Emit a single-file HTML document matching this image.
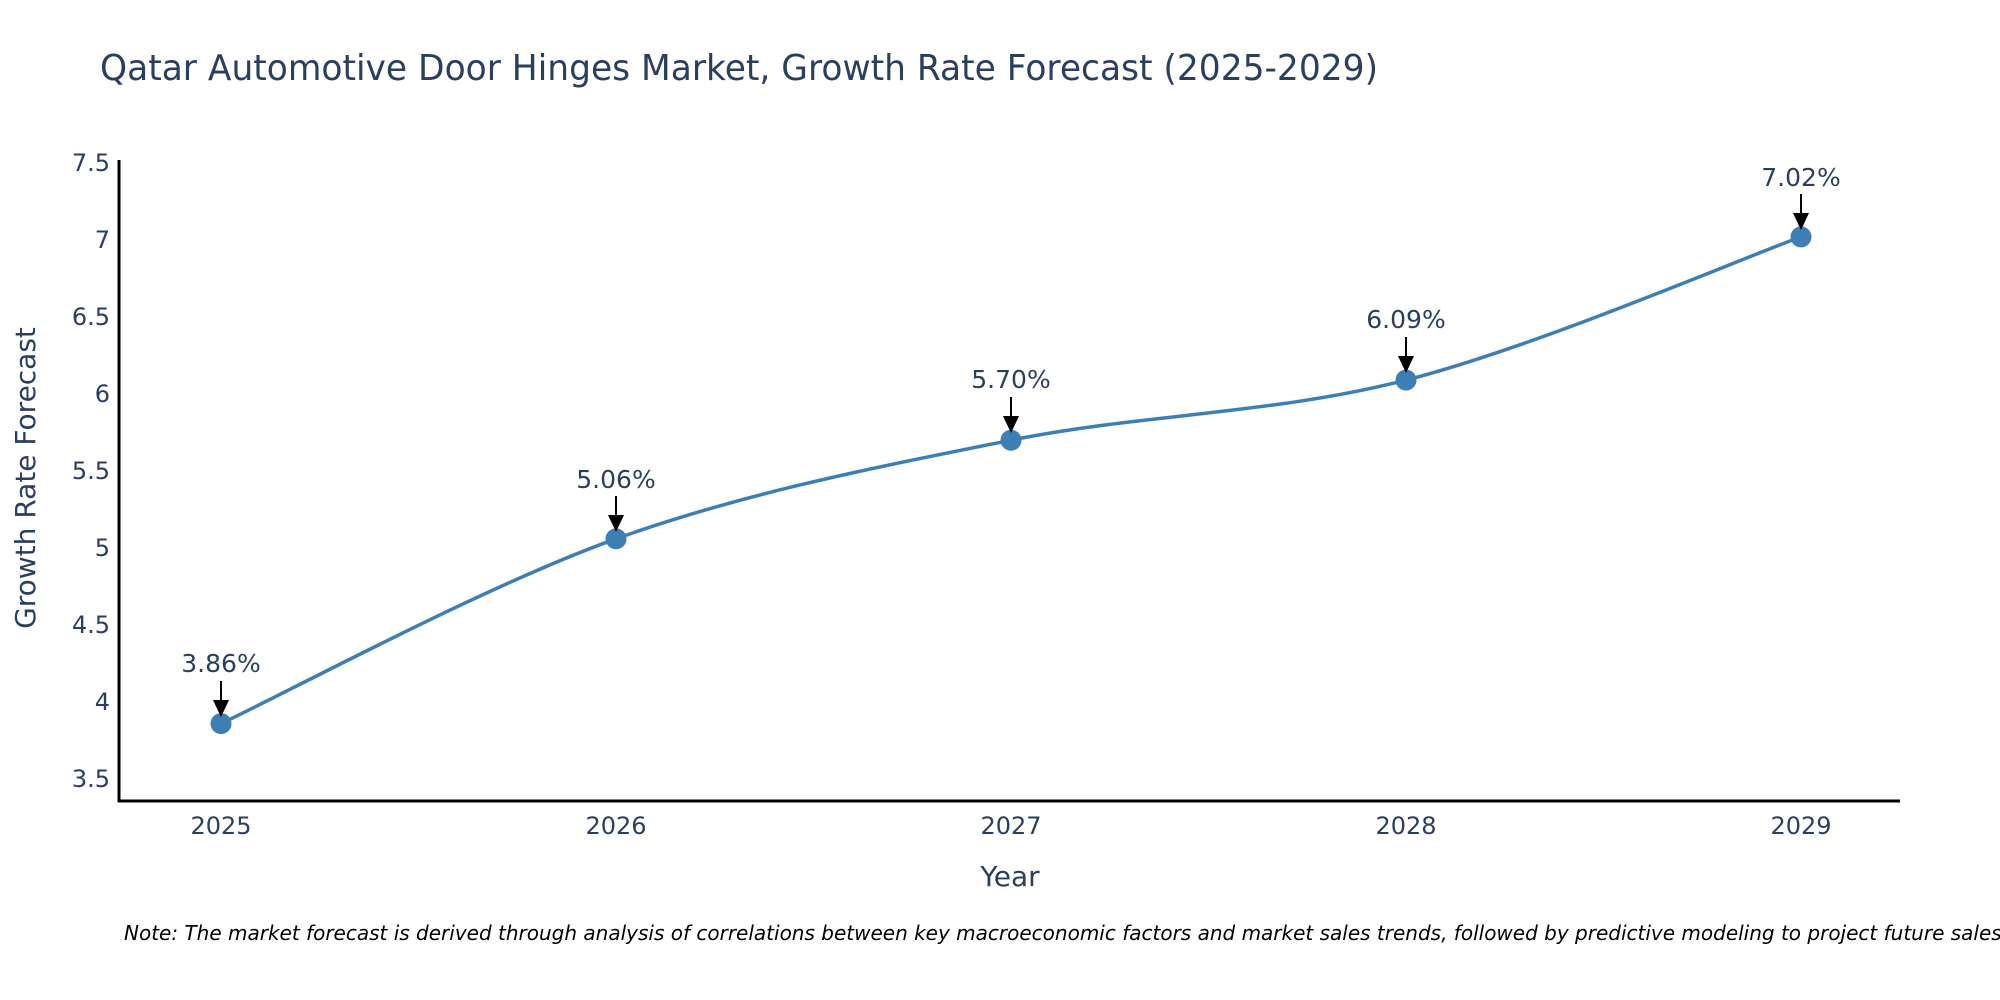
<!DOCTYPE html>
<html><head><meta charset="utf-8"><style>html,body{margin:0;padding:0;background:#fff}svg{display:block}</style></head>
<body>
<svg width="2000" height="1000" xmlns="http://www.w3.org/2000/svg" font-family="'DejaVu Sans','Liberation Sans',sans-serif">
<rect width="2000" height="1000" fill="#fff"/>
<text x="100" y="80" font-size="36" fill="#2a3f5f" textLength="1278" lengthAdjust="spacingAndGlyphs">Qatar Automotive Door Hinges Market, Growth Rate Forecast (2025-2029)</text>
<g font-size="24" fill="#2a3f5f" text-anchor="end">
<text x="110" y="171">7.5</text>
<text x="110" y="248">7</text>
<text x="110" y="325">6.5</text>
<text x="110" y="402">6</text>
<text x="110" y="479">5.5</text>
<text x="110" y="556">5</text>
<text x="110" y="633">4.5</text>
<text x="110" y="710">4</text>
<text x="110" y="787">3.5</text>
</g>
<g font-size="24" fill="#2a3f5f" text-anchor="middle">
<text x="221" y="834">2025</text>
<text x="616" y="834">2026</text>
<text x="1011" y="834">2027</text>
<text x="1406" y="834">2028</text>
<text x="1801" y="834">2029</text>
</g>
<text x="1010" y="886" font-size="28" fill="#2a3f5f" text-anchor="middle">Year</text>
<text transform="translate(35,478) rotate(-90)" font-size="28" fill="#2a3f5f" text-anchor="middle">Growth Rate Forecast</text>
<line x1="119" y1="160" x2="119" y2="802" stroke="#000" stroke-width="3"/>
<line x1="118" y1="801" x2="1900" y2="801" stroke="#000" stroke-width="3"/>
<path d="M221,723.6 C286.8,692.8 484.3,586 616,538.8 C747.7,491.6 879.3,466.7 1011,440.2 C1142.7,413.8 1274.3,414 1406,380.1 C1537.7,346.2 1735.2,260.8 1801,236.9" fill="none" stroke="#3d7fb5" stroke-width="3.5"/>
<g fill="#3d7fb5">
<circle cx="221" cy="723.6" r="10.5"/><circle cx="616" cy="538.8" r="10.5"/><circle cx="1011" cy="440.2" r="10.5"/><circle cx="1406" cy="380.1" r="10.5"/><circle cx="1801" cy="236.9" r="10.5"/>
</g>
<g stroke="#000" stroke-width="2">
<line x1="221" y1="681" x2="221" y2="704"/><line x1="616" y1="496" x2="616" y2="519"/><line x1="1011" y1="397" x2="1011" y2="420"/><line x1="1406" y1="337" x2="1406" y2="360"/><line x1="1801" y1="194" x2="1801" y2="217"/>
</g>
<g fill="#000">
<polygon points="213,700 229,700 221,717"/><polygon points="608,515 624,515 616,532"/><polygon points="1003,416 1019,416 1011,433"/><polygon points="1398,356 1414,356 1406,373"/><polygon points="1793,213 1809,213 1801,230"/>
</g>
<g font-size="25" fill="#2a3f5f" text-anchor="middle">
<text x="221" y="672">3.86%</text>
<text x="616" y="488">5.06%</text>
<text x="1011" y="388">5.70%</text>
<text x="1406" y="328">6.09%</text>
<text x="1801" y="186">7.02%</text>
</g>
<text x="124" y="940" font-size="20" font-style="italic" fill="#000">Note: The market forecast is derived through analysis of correlations between key macroeconomic factors and market sales trends, followed by predictive modeling to project future sales.</text>
</svg>
</body></html>
